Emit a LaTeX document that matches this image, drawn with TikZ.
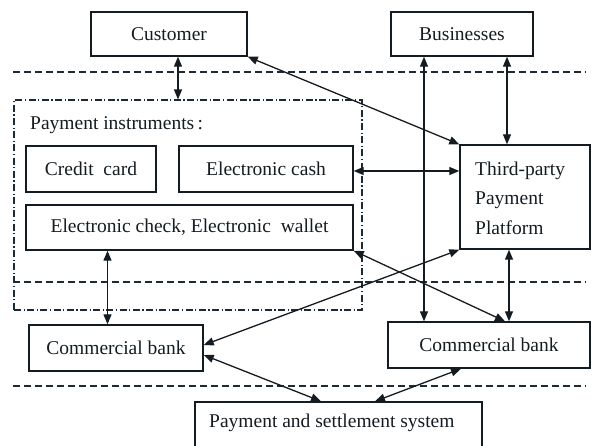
\documentclass[tikz,border=0pt]{standalone}
\usepackage{fontspec}
\setmainfont{Liberation Serif}
\usetikzlibrary{arrows.meta}
\definecolor{ink}{RGB}{20,28,34}
\definecolor{rule}{RGB}{28,42,52}
\begin{document}
\begin{tikzpicture}[x=1pt,y=-1pt,
  font=\fontsize{19.5}{23}\selectfont,
  box/.style={draw=ink,line width=1.4pt,rectangle,inner sep=0pt,text=ink},
  link/.style={draw=ink,line width=1.3pt,{Triangle[length=10pt,width=8pt]}-{Triangle[length=10pt,width=8pt]}},
  layer/.style={draw=rule,line width=1.2pt,dash pattern=on 7pt off 4pt},
  group/.style={draw=rule,line width=1.1pt,dash pattern=on 7pt off 2.5pt on 1.2pt off 2.5pt}]
\clip (0,0) rectangle (596,445);
\fill[white] (0,0) rectangle (596,445);

% layer separators
\draw[layer] (13,72) -- (586,72);
\draw[layer] (13,282) -- (586,282);
\draw[layer] (13,386) -- (586,386);

% group of payment instruments
\node[group,rectangle,minimum width=348pt,minimum height=210pt] (instr) at (188,205) {};
\node[anchor=west,text=ink,inner sep=0pt] (instrlabel) at (30,125) {Payment instruments\,:};

% boxes
\node[box,minimum width=156pt,minimum height=44pt] (cust) at (169,34) {Customer};
\node[box,minimum width=142pt,minimum height=44pt] (biz) at (462,34) {Businesses};
\node[box,minimum width=130pt,minimum height=46pt] (credit) at (91,169) {Credit\ \ card};
\node[box,minimum width=174pt,minimum height=46pt] (ecash) at (266,169) {Electronic cash};
\node[box,minimum width=327pt,minimum height=45pt] (echeck) at (189.5,227.5) {Electronic check, Electronic\ \ wallet};
\node[box,minimum width=130pt,minimum height=104pt] (third) at (525,197) {};
\node[anchor=west,align=left,text=ink,inner sep=0pt,font=\fontsize{19.5}{29.5}\selectfont] (thirdtext) at (475,198) {Third-party\\Payment\\Platform};
\node[box,minimum width=174pt,minimum height=46pt] (bankl) at (116,348) {Commercial bank};
\node[box,minimum width=202pt,minimum height=46pt] (bankr) at (489,345) {Commercial bank};
\node[box,minimum width=287pt,minimum height=60pt] (settle) at (338.5,432) {};
\node[anchor=west,text=ink,inner sep=0pt] (settletext) at (209,423) {Payment and settlement system};

% connections
\draw[link] ([xshift=9pt]cust.south) -- ([xshift=-10pt]instr.north);
\draw[link] (cust.south east) -- (third.north west);
\draw[link] ([xshift=-38pt]biz.south) -- ([xshift=-38pt]biz.south |- bankr.north);
\draw[link] ([xshift=45pt]biz.south) -- ([xshift=45pt]biz.south |- third.north);
\draw[link] ([yshift=-2pt]ecash.east) -- ([yshift=-2pt]ecash.east -| third.west);
\draw[link] ([xshift=-82pt]echeck.south) -- ([xshift=-82pt]echeck.south |- bankl.north);
\draw[link] (third.south west) -- ([yshift=3pt]bankl.east);
\draw[link] (echeck.south east) -- ([xshift=16pt]bankr.north);
\draw[link] ([xshift=-16pt]third.south) -- ([xshift=-16pt]third.south |- bankr.north);
\draw[link] ([yshift=-7pt]bankl.east) -- ([xshift=-17.5pt]settle.north);
\draw[link] ([xshift=-28pt]bankr.south) -- ([xshift=36.5pt]settle.north);
\end{tikzpicture}
\end{document}
